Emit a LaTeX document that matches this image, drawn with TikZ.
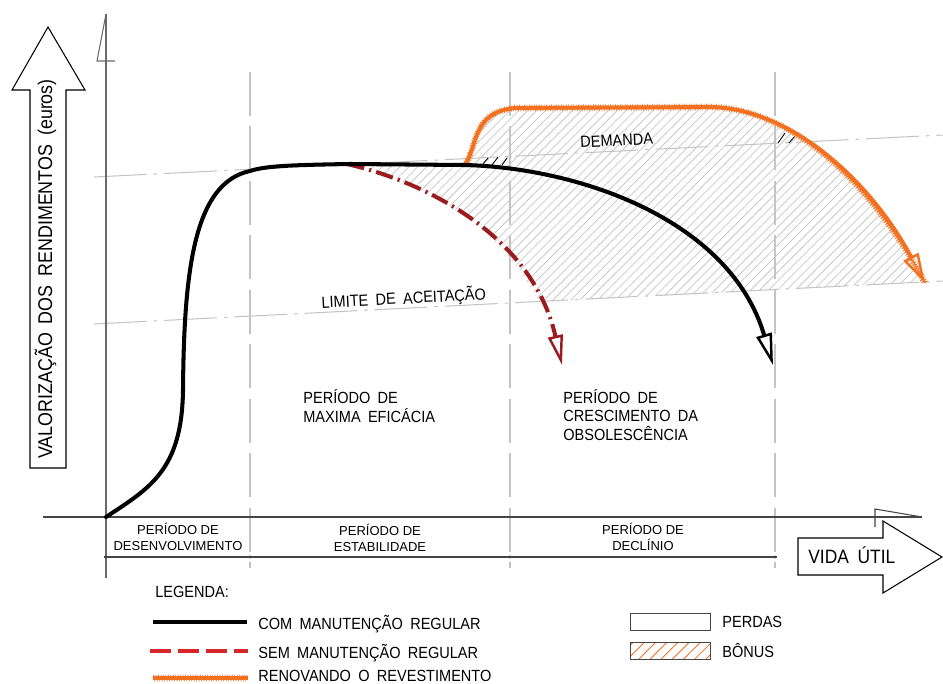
\documentclass[tikz,border=0pt]{standalone}
\usepackage{fontspec}
\setmainfont{Liberation Sans}
\newfontfamily\cadfont[FakeStretch=0.9,WordSpace=1.8]{Liberation Sans}
\usetikzlibrary{arrows.meta,patterns.meta,decorations.pathmorphing}
\definecolor{axisgray}{HTML}{6A6A6A}
\definecolor{axisdark}{HTML}{454545}
\definecolor{guidegray}{HTML}{C4C4C4}
\definecolor{hatchgray}{HTML}{C8C8C8}
\definecolor{noredark}{HTML}{9B1C1F}
\definecolor{legendred}{HTML}{D7262B}
\definecolor{renovorange}{HTML}{F37021}
\begin{document}
\begin{tikzpicture}[x=0.02cm,y=-0.02cm,
  cadtext/.style={font=\cadfont\fontsize{9.2}{11}\selectfont, inner sep=0pt},
  periodtext/.style={font=\fontsize{7.4}{9.1}\selectfont, align=center, inner sep=0pt},
  guide/.style={draw=guidegray, line width=0.6pt, dash pattern=on 30pt off 4pt on 2pt off 4pt},
  divider/.style={draw=guidegray, line width=0.7pt, dash pattern=on 25pt off 6pt},
  blockarrow/.style={draw=black, line width=0.6pt, fill=white},
  withmaint/.style={draw=black, line width=2.3pt, line cap=round,
    -{Triangle[open,length=18pt,width=9pt,line width=1.4pt]}},
  nomaint/.style={draw=noredark, line width=2.3pt,
    dash pattern=on 10pt off 3pt on 1.2pt off 3pt,
    -{Triangle[open,length=17pt,width=8.5pt,line width=1.4pt]}},
  renovband/.style={draw=renovorange, line width=2.2pt},
  renovfuzz/.style={draw=renovorange, line width=0.5pt, decorate,
    decoration={zigzag, amplitude=1.2pt, segment length=1.4pt}},
  lossarea/.style={pattern={Lines[angle=45,distance=3.6pt,line width=0.45pt]}, pattern color=hatchgray},
  bonusarea/.style={pattern={Lines[angle=45,distance=4.5pt,line width=0.5pt]}, pattern color=renovorange}
]
\useasboundingbox (0,0) rectangle (943,683);

% key points of the curves
\coordinate (origin) at (106,517);
\coordinate (plateauL) at (347,164);
\coordinate (renewStart) at (465,165);
\coordinate (blackTip) at (773,365);
\coordinate (redTip) at (562,365);
\coordinate (orangeTip) at (925,283);

% period dividers
\draw[divider] (250,72) -- (250,568);
\draw[divider] (510,72) -- (510,568);
\draw[divider] (775,72) -- (775,568);

% demand and acceptance guide lines
\draw[guide] (94,177) -- (943,135);
\draw[guide] (94,324) -- (943,281);

% hatched area between the curves, above the acceptance limit
\begin{scope}
  \clip (0,0) -- (943,0) -- (943,281) -- (0,329) -- cycle;
  \fill[lossarea] (plateauL) -- (renewStart)
    .. controls (478,145) and (472,112) .. (515,108) -- (710,107)
    .. controls (790,108) and (870,180) .. (orangeTip)
    -- (943,300) -- (943,420) -- (562,420) -- (redTip)
    .. controls (533,238) and (430,183) .. (plateauL) -- cycle;
\end{scope}

% small marks between demand line and curves
\draw[line width=0.5pt] (482,165) -- (488,158) (492,165) -- (498,157) (502,165) -- (507,158);
\draw[line width=0.5pt] (778,143) -- (785,133) (789,143) -- (795,136);

% axes
\draw[axisgray, line width=0.8pt] (106,14) -- (106,578);
\draw[axisgray, line width=0.6pt] (106,14) -- (97,61) -- (115,61);
\draw[axisdark, line width=0.8pt] (43,517) -- (922,517);
\draw[axisdark, line width=0.6pt] (875,527) -- (875,509) -- (922,517);
\draw[axisdark, line width=0.7pt] (104,557) -- (777,557);
\foreach \px in {106,250,510,775} \fill[axisdark] (\px,557) circle (1.6);

% axis captions as block arrows
\draw[blockarrow] (30,468) -- (30,90) -- (12,90) -- (48,27) -- (85,90) -- (66,90) -- (66,468) -- cycle;
\node[rotate=90, anchor=base, font=\cadfont\fontsize{11.3}{13}\selectfont, inner sep=0pt] (ylabel) at (52,269) {VALORIZAÇÃO DOS RENDIMENTOS (euros)};
\draw[blockarrow] (798,538) -- (883,538) -- (883,521) -- (942,557) -- (883,593) -- (883,575) -- (798,575) -- cycle;
\node[anchor=base west, font=\cadfont\fontsize{11}{13}\selectfont, inner sep=0pt] (xlabel) at (808,563) {VIDA ÚTIL};

% period names under the axis
\node[periodtext] (pdev) at (178,537) {PERÍODO DE\\DESENVOLVIMENTO};
\node[periodtext] (pstab) at (380,538) {PERÍODO DE\\ESTABILIDADE};
\node[periodtext] (pdecl) at (643,537) {PERÍODO DE\\DECLÍNIO};

% texts inside the chart
\node[cadtext, anchor=base, rotate=3] (demand) at (617,146) {DEMANDA};
\node[cadtext, anchor=base, rotate=3] (limit) at (404,304) {LIMITE DE ACEITAÇÃO};
\node[cadtext, anchor=base west] (eff1) at (303,403) {PERÍODO DE};
\node[cadtext, anchor=base west] (eff2) at (303,422) {MAXIMA EFICÁCIA};
\node[cadtext, anchor=base west] (obs1) at (563,403) {PERÍODO DE};
\node[cadtext, anchor=base west] (obs2) at (563,421) {CRESCIMENTO DA};
\node[cadtext, anchor=base west] (obs3) at (563,440) {OBSOLESCÊNCIA};

% curve without regular maintenance
\draw[nomaint] (plateauL) .. controls (430,183) and (533,238) .. (redTip);

% curve with coating renewal
\draw[renovfuzz] (renewStart) .. controls (478,145) and (472,112) .. (515,108) -- (710,107)
  .. controls (790,108) and (870,180) .. (orangeTip);
\draw[renovband, -{Triangle[open,length=17pt,width=9.5pt,line width=1.4pt]}] (renewStart)
  .. controls (478,145) and (472,112) .. (515,108) -- (710,107)
  .. controls (790,108) and (870,180) .. (orangeTip);

% curve with regular maintenance
\draw[withmaint] (origin) .. controls (150,488) and (182,470) .. (183,390)
  .. controls (184,270) and (194,183) .. (250,171)
  .. controls (265,166) and (290,165) .. (350,164) -- (renewStart)
  .. controls (580,168) and (730,220) .. (blackTip);

% legend
\node[cadtext, anchor=base west] (legtitle) at (155,597) {LEGENDA:};
\draw[black, line width=2.3pt] (153,622) -- (247,622);
\node[cadtext, anchor=base west] (leg1) at (258,629) {COM MANUTENÇÃO REGULAR};
\draw[legendred, line width=2.3pt, dash pattern=on 12pt off 4pt] (150,651) -- (248,651);
\node[cadtext, anchor=base west] (leg2) at (258,658) {SEM MANUTENÇÃO REGULAR};
\draw[renovfuzz] (153,678) -- (248,678);
\draw[renovband] (153,678) -- (248,678);
\node[cadtext, anchor=base west] (leg3) at (258,681.5) {RENOVANDO O REVESTIMENTO};

\draw[line width=0.5pt, draw=axisdark, fill=white] (630,613) rectangle (710,630);
\node[cadtext, anchor=base west] (legloss) at (722,627) {PERDAS};
\fill[bonusarea] (630,642) rectangle (710,659);
\draw[line width=0.5pt, draw=axisdark] (630,642) rectangle (710,659);
\node[cadtext, anchor=base west] (legbonus) at (722,657) {BÔNUS};
\end{tikzpicture}
\end{document}
